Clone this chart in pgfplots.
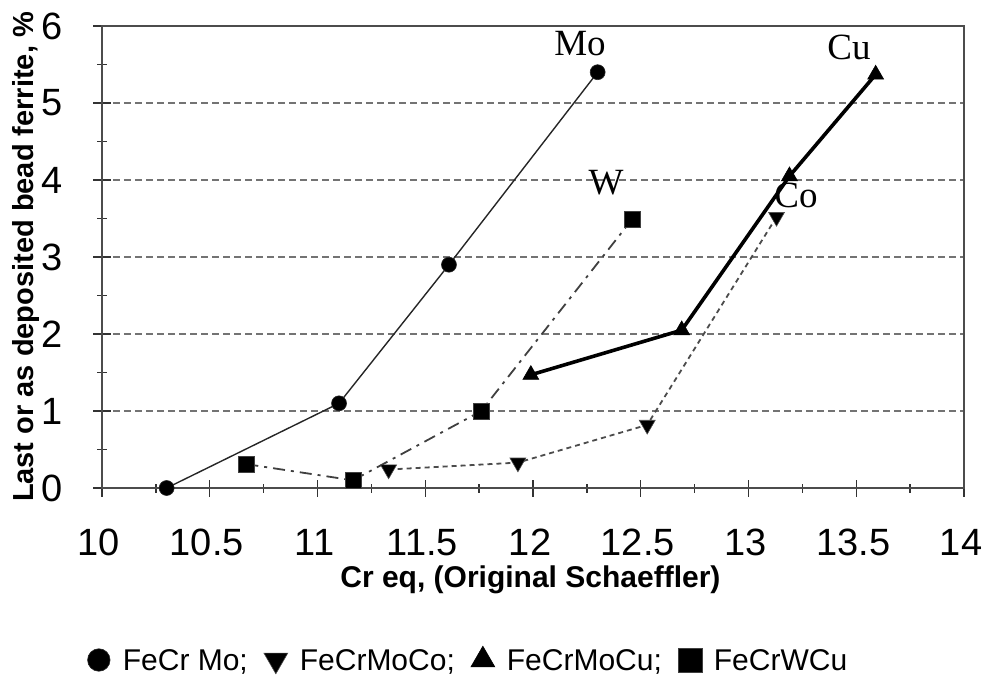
\documentclass[border=0pt]{standalone}
\usepackage{pgfplots}
\pgfplotsset{compat=1.18}
\usepackage{fontspec}
\setsansfont{Liberation Sans}
\newfontfamily\tagfont{Liberation Serif}

\begin{document}
\begin{tikzpicture}
% overall page frame around the axis box
\path[use as bounding box] (-51pt,-94.5pt) rectangle (441pt,244pt);
\begin{axis}[
  scale only axis, width=431pt, height=231pt,
  xmin=10, xmax=14, ymin=0, ymax=6,
  xtick={10,10.5,...,14}, minor x tick num=1,
  ytick={0,1,...,6}, minor y tick num=1,
  tick pos=left, tick align=center,
  major tick length=8.5pt, minor tick length=4.5pt,
  every tick/.style={black!80, line width=0.7pt},
  axis line style={black!70, line width=1pt},
  /pgf/number format/assume math mode=true,
  /pgf/number format/fixed,
  xticklabel style={font=\sffamily\fontsize{19}{19}\selectfont, anchor=center, yshift=-23pt, xshift=-1.5pt},
  yticklabel style={font=\sffamily\fontsize{19}{19}\selectfont, anchor=east, inner sep=0pt, xshift=-15pt},
  ymajorgrids,
  major grid style={black!55, line width=0.8pt, dash pattern=on 3.5pt off 2pt},
  xlabel={Cr eq, (Original Schaeffler)},
  ylabel={Last or as deposited bead ferrite, \%},
  every axis x label/.style={at={(axis description cs:0.497,-0.199)}, anchor=center,
    font=\sffamily\bfseries\fontsize{15}{15}\selectfont},
  every axis y label/.style={at={(axis description cs:-0.0882,0.5)}, rotate=90, anchor=center,
    font=\sffamily\bfseries\fontsize{14.5}{14.5}\selectfont},
  legend columns=4,
  legend style={at={(0.4258,-0.3766)}, anchor=center, draw=none, fill=none,
    font=\sffamily\fontsize{15}{15}\selectfont,
    /tikz/every even column/.append style={column sep=6pt}},
  legend image code/.code={%
    \path[draw=none] (-6pt,0pt) -- (10pt,0pt);
    \draw[#1, only marks, every mark/.append style={scale=1.5}] plot coordinates {(0pt,1pt)};},
]
% FeCr Mo
\addplot[black!85, line width=0.7pt, mark=*, mark size=3.75pt,
  mark options={solid, fill=black, line width=0.3pt}]
  coordinates {(10.30,0) (11.10,1.10) (11.61,2.90) (12.30,5.40)};
\addlegendentry{FeCr Mo;}
% FeCrMoCo
\addplot[black!70, line width=0.9pt, dash pattern=on 2.5pt off 2pt, mark=triangle*, mark size=4.6pt,
  mark options={solid, fill=black, rotate=180, line width=0.3pt}]
  coordinates {(11.33,0.24) (11.93,0.33) (12.53,0.82) (13.13,3.52)};
\addlegendentry{FeCrMoCo;}
% FeCrMoCu
\addplot[black, line width=1.8pt, mark=triangle*, mark size=4.6pt,
  mark options={solid, fill=black, line width=0.3pt}]
  coordinates {(11.99,1.47) (12.69,2.05) (13.19,4.05) (13.59,5.37)};
\addlegendentry{FeCrMoCu;}
% FeCrWCu
\addplot[black!75, line width=0.9pt, dash pattern=on 6pt off 3pt on 1.5pt off 3pt, mark=square*, mark size=4pt,
  mark options={solid, fill=black, line width=0.3pt}]
  coordinates {(10.67,0.31) (11.165,0.10) (11.76,1.00) (12.46,3.49)};
\addlegendentry{FeCrWCu}
% alloying element tags
\node[font=\tagfont\fontsize{18.5}{18.5}\selectfont] at (axis cs:12.218,5.766) {Mo};
\node[font=\tagfont\fontsize{18.5}{18.5}\selectfont] at (axis cs:13.466,5.727) {Cu};
\node[font=\tagfont\fontsize{18.5}{18.5}\selectfont] at (axis cs:12.339,3.961) {W};
\node[font=\tagfont\fontsize{18.5}{18.5}\selectfont] at (axis cs:13.22,3.805) {Co};
\end{axis}
\end{tikzpicture}
\end{document}
